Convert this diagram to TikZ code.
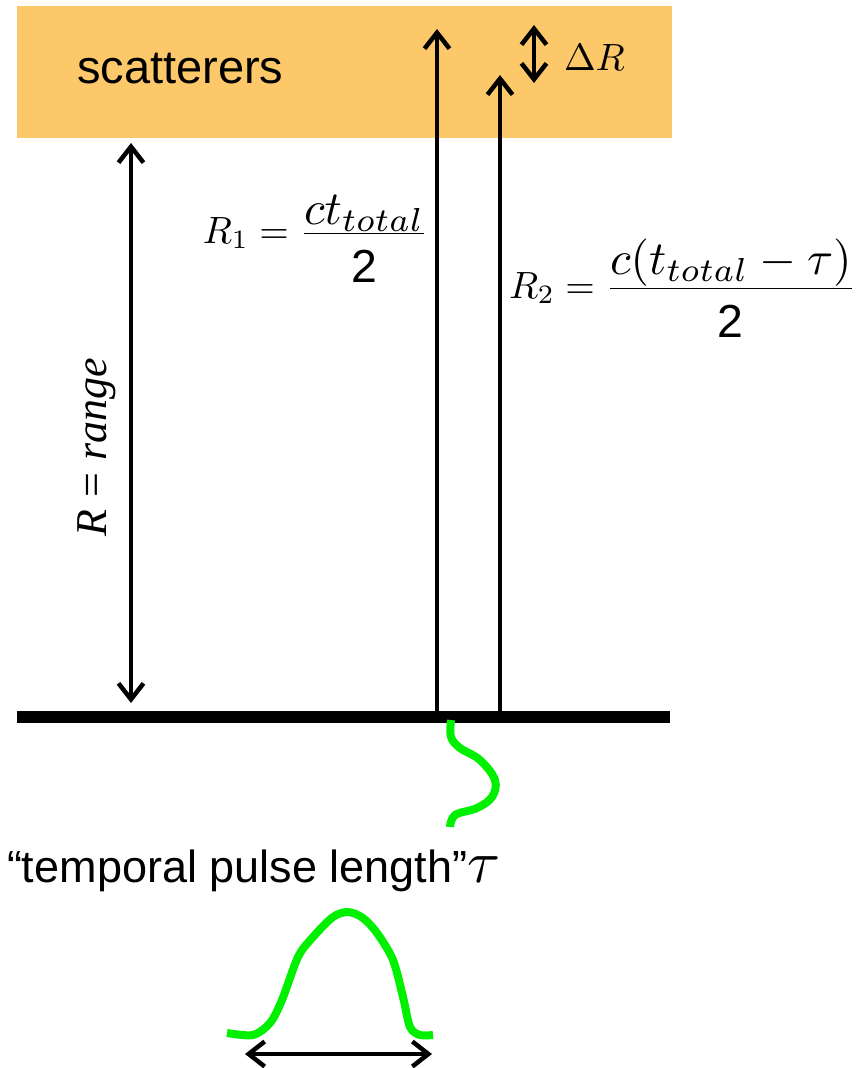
\documentclass[tikz,border=0pt]{standalone}
\usepackage{fontspec}
\setmainfont{Liberation Sans}
\newfontfamily\tmsfont{Liberation Serif}
\usetikzlibrary{arrows.meta}
\definecolor{scatcol}{RGB}{253,200,105}
\definecolor{pulsegreen}{RGB}{0,240,0}
\newcommand{\bigtwo}{\mbox{\fontsize{12.2}{14}\selectfont\rule{0pt}{1.0em}2}}
\begin{document}
\begin{tikzpicture}[x=1pt,y=-1pt,
  arr/.style={line width=4.5pt, >={Straight Barb[length=16pt,width=25pt]}, line cap=round, line join=round},
  pulse/.style={line width=8pt, pulsegreen, line join=round},
  lbl/.style={inner sep=0pt, outer sep=0pt}]
\useasboundingbox (0,0) rectangle (864,1068);
% scatterer band
\node[fill=scatcol, anchor=north west, minimum width=655pt, minimum height=132pt, inner sep=0pt] (band) at (17,6) {};
\node[lbl, anchor=base west, font=\fontsize{47}{56}\selectfont] (scat) at (77,83) {scatterers};
% ground
\node[fill=black, anchor=west, minimum width=653pt, minimum height=12pt, inner sep=0pt] (ground) at (17,717) {};
% coordinates
\coordinate (a1s) at (437,712);
\coordinate (a1e) at (437,29);
\coordinate (a2s) at (500,712);
\coordinate (a2e) at (500,75);
\coordinate (dr1) at (534,25);
\coordinate (dr2) at (534,83);
\coordinate (rtop) at (131,143);
\coordinate (rbot) at (131,703);
\coordinate (pl) at (245,1054);
\coordinate (pr) at (432,1054);
% arrows
\draw[arr,->] (a1s) -- (a1e);
\draw[arr,->] (a2s) -- (a2e);
\draw[arr,<->] (dr1) -- (dr2);
\draw[arr,<->] (rtop) -- (rbot);
\draw[arr,<->] (pl) -- (pr);
% labels
\node[lbl, anchor=base west] (dR) at (564,70) {\scalebox{3.8}{$\Delta R$}};
\node[lbl, anchor=base east] (r1) at (429,243)
  {\scalebox{3.8}{$R_1 = \frac{\scalebox{1.25}{$ct_{total}$}}{\bigtwo}$}};
\node[lbl, anchor=base west] (r2) at (509,298)
  {\scalebox{3.8}{$R_2 = \frac{\scalebox{1.25}{$c(t_{total}-\tau)$}}{\bigtwo}$}};
\node[lbl, rotate=90, anchor=base, font=\fontsize{44}{52}\selectfont] (rng) at (106,447)
  {{\tmsfont\itshape R} {\tmsfont =} {\tmsfont\itshape range}};
\node[lbl, anchor=base west, font=\fontsize{45}{54}\selectfont] (tpl) at (7,882)
  {“temporal pulse length”\scalebox{6}{\fontsize{10}{12}\selectfont$\tau$}};
% green S curve
\draw[pulse] plot[smooth, tension=0.6] coordinates {(451,720) (451,737) (460,748) (480,760) (495,780) (492,797) (477,808) (455,815) (450,827)};
% pulse shape
\draw[pulse] plot[smooth, tension=0.5] coordinates {(227,1033) (253,1035) (270,1023) (282,1000) (298,957) (313,937) (333,917) (348,912) (363,918) (377,933) (393,960) (403,997) (410,1027) (420,1035) (433,1035)};
\end{tikzpicture}
\end{document}
